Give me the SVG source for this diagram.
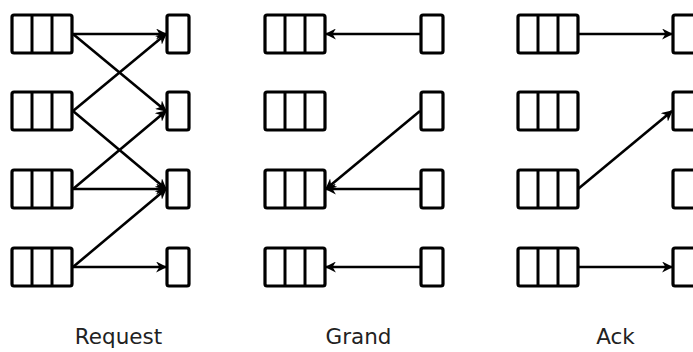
<svg xmlns="http://www.w3.org/2000/svg" width="693" height="352" viewBox="0 0 693 352">
<defs>
<style>
.q{fill:#fff;stroke:#000;stroke-width:3.2}
.d{stroke:#000;stroke-width:3}
.r{fill:#fff;stroke:#000;stroke-width:3.2}
.c line{stroke:#000;stroke-width:2.6;marker-end:url(#ah)}
.t{font-family:"DejaVu Sans",sans-serif;font-size:21.5px;fill:#222;text-anchor:middle}
</style>
<marker id="ah" viewBox="0 0 10 10" refX="9" refY="5" markerWidth="11" markerHeight="11" markerUnits="userSpaceOnUse" orient="auto">
<path d="M0,0 L10,5 L0,10 L3,5 z" fill="#000"/>
</marker>
<g id="queue"><rect class="q" x="0" y="0" width="60" height="38" rx="2"/><line class="d" x1="20" y1="0" x2="20" y2="38"/><line class="d" x1="40" y1="0" x2="40" y2="38"/></g>
<rect id="slot" class="r" x="0" y="0" width="22" height="38" rx="2"/>
</defs>
<g id="connectors" class="c">
<line x1="73" y1="34" x2="166" y2="34"/>
<line x1="73" y1="34" x2="166" y2="111"/>
<line x1="73" y1="111" x2="166" y2="34"/>
<line x1="73" y1="111" x2="166" y2="189"/>
<line x1="73" y1="189" x2="166" y2="111"/>
<line x1="73" y1="189" x2="166" y2="189"/>
<line x1="73" y1="267" x2="166" y2="189"/>
<line x1="73" y1="267" x2="166" y2="267"/>
<line x1="420" y1="34" x2="326" y2="34"/>
<line x1="420" y1="111" x2="326" y2="189"/>
<line x1="420" y1="189" x2="326" y2="189"/>
<line x1="420" y1="267" x2="326" y2="267"/>
<line x1="578" y1="34" x2="672" y2="34"/>
<line x1="578" y1="189" x2="672" y2="111"/>
<line x1="578" y1="267" x2="672" y2="267"/>
</g>
<g id="req-q1"><use href="#queue" x="12" y="15"/></g>
<g id="req-q2"><use href="#queue" x="12" y="92"/></g>
<g id="req-q3"><use href="#queue" x="12" y="170"/></g>
<g id="req-q4"><use href="#queue" x="12" y="248"/></g>
<g id="req-r1"><use href="#slot" x="167" y="15"/></g>
<g id="req-r2"><use href="#slot" x="167" y="92"/></g>
<g id="req-r3"><use href="#slot" x="167" y="170"/></g>
<g id="req-r4"><use href="#slot" x="167" y="248"/></g>
<g id="gr-q1"><use href="#queue" x="265" y="15"/></g>
<g id="gr-q2"><use href="#queue" x="265" y="92"/></g>
<g id="gr-q3"><use href="#queue" x="265" y="170"/></g>
<g id="gr-q4"><use href="#queue" x="265" y="248"/></g>
<g id="gr-r1"><use href="#slot" x="421" y="15"/></g>
<g id="gr-r2"><use href="#slot" x="421" y="92"/></g>
<g id="gr-r3"><use href="#slot" x="421" y="170"/></g>
<g id="gr-r4"><use href="#slot" x="421" y="248"/></g>
<g id="ack-q1"><use href="#queue" x="518" y="15"/></g>
<g id="ack-q2"><use href="#queue" x="518" y="92"/></g>
<g id="ack-q3"><use href="#queue" x="518" y="170"/></g>
<g id="ack-q4"><use href="#queue" x="518" y="248"/></g>
<g id="ack-r1"><use href="#slot" x="673" y="15"/></g>
<g id="ack-r2"><use href="#slot" x="673" y="92"/></g>
<g id="ack-r3"><use href="#slot" x="673" y="170"/></g>
<g id="ack-r4"><use href="#slot" x="673" y="248"/></g>
<text class="t" x="118.5" y="344">Request</text>
<text class="t" x="358.5" y="344">Grand</text>
<text class="t" x="615.5" y="344">Ack</text>
</svg>
